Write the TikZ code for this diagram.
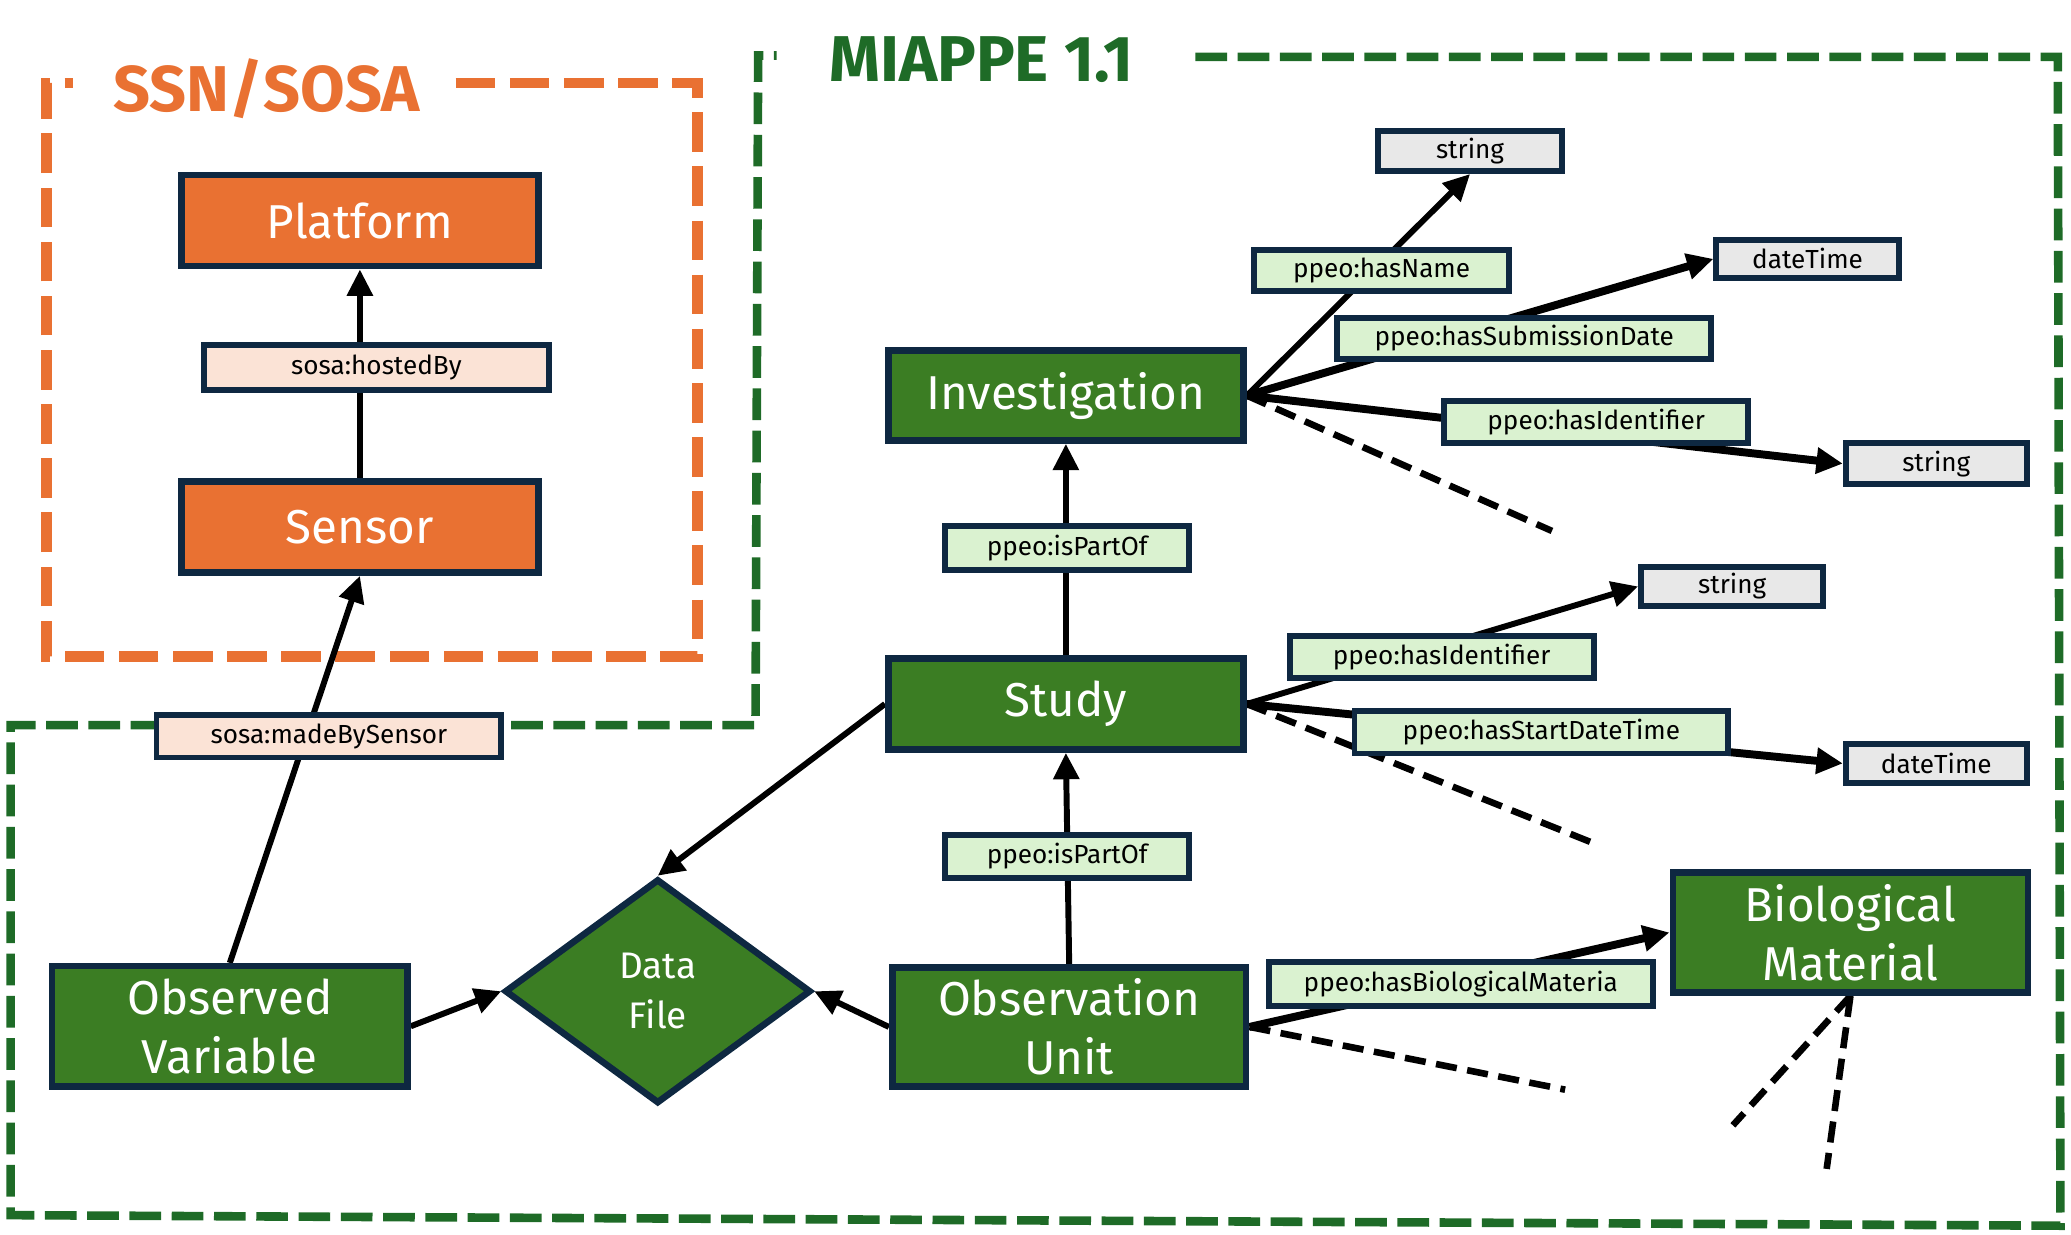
\documentclass[tikz,border=0pt]{standalone}
\usepackage{fontspec}
\setmainfont{Fira Sans}
\usetikzlibrary{arrows.meta,shapes.geometric}
\pgfdeclarelayer{bg}
\pgfsetlayers{bg,main}
\definecolor{navy}{HTML}{0E2841}
\definecolor{clsgreen}{HTML}{3B7D23}
\definecolor{frgreen}{HTML}{1E6B27}
\definecolor{orng}{HTML}{E97132}
\definecolor{peach}{HTML}{FBE3D6}
\definecolor{lgreen}{HTML}{DAF2D0}
\definecolor{lgray}{HTML}{E8E8E8}
\begin{document}
\begin{tikzpicture}[x=1pt,y=-1pt,
  cls/.style={draw=navy,line width=5pt,fill=clsgreen,text=white,inner sep=0pt,align=center,font=\fontsize{36}{45}\selectfont},
  ocls/.style={cls,fill=orng},
  prop/.style={draw=navy,line width=4.5pt,fill=lgreen,inner sep=0pt,font=\fontsize{19.8}{22}\selectfont},
  sprop/.style={prop,fill=peach},
  dtype/.style={prop,fill=lgray},
  conn/.style={line width=4.5pt,-{Triangle[length=20pt,width=19pt]}},
  thick conn/.style={conn,line width=6pt},
  dashline/.style={line width=5pt,dash pattern=on 16pt off 8pt},
  frame/.style={line width=8pt,dash pattern=on 30pt off 11pt},
  title/.style={font=\fontsize{49}{55}\selectfont\bfseries,inner sep=0pt}
]
\useasboundingbox (0,0) rectangle (1568,935);

% class nodes
\node[ocls,minimum width=270pt,minimum height=69pt] (platform) at (272.5,167) {Platform};
\node[ocls,minimum width=270pt,minimum height=69pt] (sensor) at (272.5,399) {Sensor};
\node[cls,minimum width=269pt,minimum height=68pt] (inv) at (807,299.5) {Investigation};
\node[cls,minimum width=269pt,minimum height=69pt] (study) at (807,533) {Study};
\node[cls,minimum width=268pt,minimum height=90pt] (ou) at (809.5,777.5) {Observation\\Unit};
\node[cls,minimum width=269pt,minimum height=91pt] (ov) at (174,777) {Observed\\Variable};
\node[cls,minimum width=269pt,minimum height=91pt] (bm) at (1401,706) {Biological\\Material};
\node[cls,shape=diamond,minimum width=232pt,minimum height=170pt,font=\fontsize{28}{38}\selectfont] (df) at (498,750.5) {Data\\File};

% property labels
\node[sprop,minimum width=261pt,minimum height=34pt] (hosted) at (285,278.5) {sosa:hostedBy};
\node[sprop,minimum width=261pt,minimum height=32pt] (made) at (249,557.5) {sosa:madeBySensor};
\node[prop,minimum width=193pt,minimum height=31pt] (hasname) at (1046,205) {ppeo:hasName};
\node[prop,minimum width=283pt,minimum height=31pt] (hassub) at (1154,256) {ppeo:hasSubmissionDate};
\node[prop,minimum width=230pt,minimum height=32pt] (hasidi) at (1208.5,319.5) {ppeo:hasIdentifier};
\node[prop,minimum width=185pt,minimum height=33pt] (part1) at (808,415) {ppeo:isPartOf};
\node[prop,minimum width=185pt,minimum height=32pt] (part2) at (808,648.5) {ppeo:isPartOf};
\node[prop,minimum width=230pt,minimum height=32pt] (hasids) at (1091.5,497.5) {ppeo:hasIdentifier};
\node[prop,minimum width=283pt,minimum height=32pt] (hasstart) at (1167,554.5) {ppeo:hasStartDateTime};
\node[prop,minimum width=291pt,minimum height=33pt] (hasbio) at (1106,745) {ppeo:hasBiologicalMateria};

% datatype nodes
\node[dtype,minimum width=139pt,minimum height=30pt] (str1) at (1113,114.5) {string};
\node[dtype,minimum width=138pt,minimum height=29pt] (dt1) at (1368.5,196) {dateTime};
\node[dtype,minimum width=137pt,minimum height=31pt] (str2) at (1466,351) {string};
\node[dtype,minimum width=138pt,minimum height=29pt] (str3) at (1311.5,444) {string};
\node[dtype,minimum width=137pt,minimum height=29pt] (dt2) at (1466,578) {dateTime};

% titles
\node[title,text=orng] (ssntitle) at (202,67) {SSN/SOSA};
\node[title,text=frgreen] (miappetitle) at (743,45) {MIAPPE 1.1};

% open ends of dashed lines
\coordinate (invend) at (1175,402);
\coordinate (studyend) at (1208,639);
\coordinate (ouend) at (1185,825);
\coordinate (bmend1) at (1312,852);
\coordinate (bmend2) at (1383,885);

\begin{pgfonlayer}{bg}
  % frames
  \draw[frame,orng] (345,63) -- (528,63) -- (528,497) -- (35,497) -- (35,63) -- (55,63);
  \draw[frgreen,line width=6.5pt,dash pattern=on 24pt off 8pt]
     (905,43) -- (1558,43) -- (1560,928) -- (8,920) -- (8,549) -- (572,549) -- (574,42) -- (588,42);
  % connectors
  \draw[conn] (sensor) -- (platform);
  \draw[conn] (ov.north) -- (sensor.south);
  \draw[conn] (study) -- (inv);
  \draw[conn] (ou.north) -- (study.south);
  \draw[conn] (study.west) -- (df.north);
  \draw[conn] (ou.west) -- (df.east);
  \draw[conn] (ov.east) -- (df.west);
  \draw[conn] (inv.east) -- (str1.south);
  \draw[thick conn] (inv.east) -- (dt1.west);
  \draw[thick conn] (inv.east) -- (str2.west);
  \draw[conn] (study.east) -- (str3.west);
  \draw[thick conn] (study.east) -- (dt2.west);
  \draw[thick conn] (ou.east) -- (bm.west);
  % dashed open ends
  \draw[dashline] (inv.east) -- (invend);
  \draw[dashline] (study.east) -- (studyend);
  \draw[dashline] (ou.east) -- (ouend);
  \draw[dashline] (bm.south) -- (bmend1);
  \draw[dashline] (bm.south) -- (bmend2);
\end{pgfonlayer}
\end{tikzpicture}
\end{document}
